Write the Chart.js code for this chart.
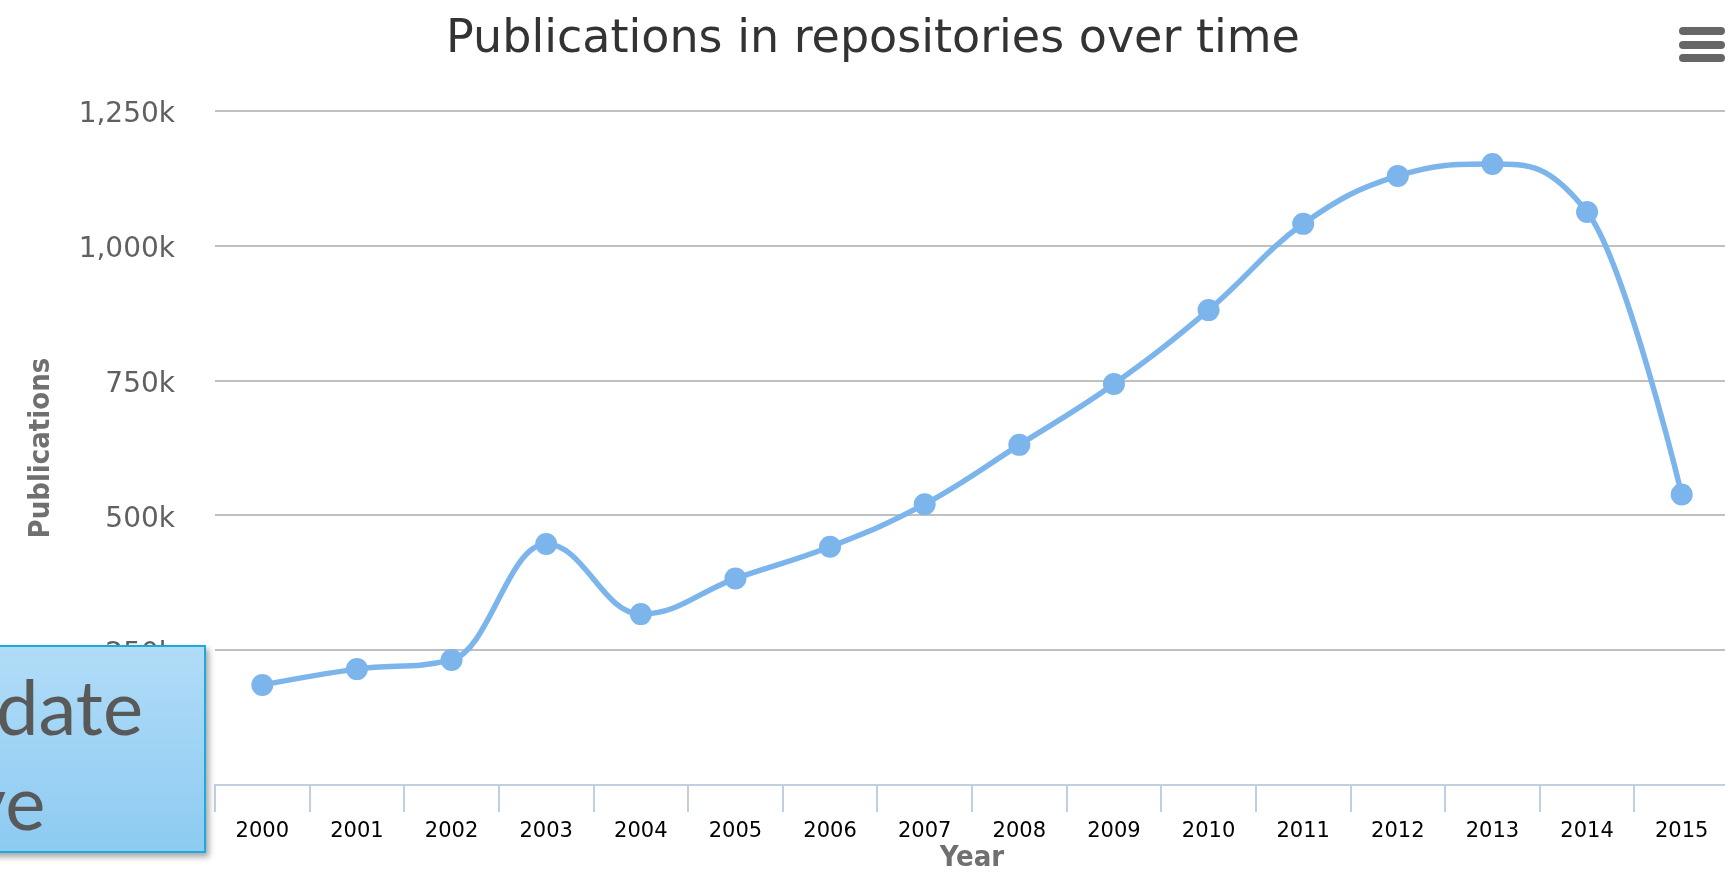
<!DOCTYPE html>
<html>
<head>
<meta charset="utf-8">
<title>Publications in repositories over time</title>
<script src="https://cdn.jsdelivr.net/npm/chart.js@4.4.1/dist/chart.umd.min.js"></script>
<style>
    html, body { margin: 0; padding: 0; background: #fff; overflow: hidden; }
    #wrap { position: absolute; left: 0; top: 0; }
    .bar { position: absolute; left: 1679px; width: 46px; height: 8px; background: #666; border-radius: 4px; }
    #callout {
        position: absolute; left: -40px; top: 645px; width: 246px; height: 208px;
        box-sizing: border-box; border: 2px solid #1ba9de;
        background: linear-gradient(#b1dcf8, #8dcbf1);
        box-shadow: 3px 4px 6px rgba(0, 0, 0, 0.35);
        font-family: Lato, "Open Sans", sans-serif; font-size: 76px; line-height: 95px; color: #595959;
        z-index: 2;
    }
    #callout span { position: absolute; white-space: nowrap; }
</style>
</head>
<body>
<div id="wrap"><canvas id="chart" width="1740" height="880"></canvas></div>
<div class="bar" style="top:27px"></div>
<div class="bar" style="top:41px"></div>
<div class="bar" style="top:54px"></div>
<div id="callout"><span style="left:34px;top:11px">date</span><span style="left:5px;top:106px">ve</span></div>
<script>
"use strict";

var years = ['2000', '2001', '2002', '2003', '2004', '2005', '2006', '2007',
             '2008', '2009', '2010', '2011', '2012', '2013', '2014', '2015'];
var publications = [185500, 215000, 232000, 447000, 317000, 383000, 442000, 521000,
                    631000, 744000, 881000, 1041000, 1130000, 1152000, 1063000, 539000];
var yMin = 0;
var yMax = 1250000;
var yStep = 250000;

var labelFont = "'DejaVu Sans'";
var axisTitleFont = "'DejaVu Sans Condensed', 'DejaVu Sans'";

//curva no estilo spline do highcharts (smoothing 1.5)
var hcSpline = {
    id: 'hcSpline',
    beforeDatasetDraw: function (chart, args) {
        var meta = args.meta;
        meta.dataset.updateControlPoints(chart.chartArea, meta.iScale.axis);
        var pts = meta.data;
        var k = 1.5, d = k + 1;
        for (var i = 0; i < pts.length; i++) {
            var p = pts[i], prev = pts[i - 1], next = pts[i + 1];
            p.cp1x = p.cp2x = p.x;
            p.cp1y = p.cp2y = p.y;
            if (!prev || !next) continue;
            var lx = (k * p.x + prev.x) / d, ly = (k * p.y + prev.y) / d;
            var rx = (k * p.x + next.x) / d, ry = (k * p.y + next.y) / d;
            var corr = (ry - ly) * (rx - p.x) / (rx - lx) + p.y - ry;
            ly += corr;
            ry += corr;
            if (ly > prev.y && ly > p.y) { ly = Math.max(prev.y, p.y); ry = 2 * p.y - ly; }
            else if (ly < prev.y && ly < p.y) { ly = Math.min(prev.y, p.y); ry = 2 * p.y - ly; }
            if (ry > next.y && ry > p.y) { ry = Math.max(next.y, p.y); ly = 2 * p.y - ry; }
            else if (ry < next.y && ry < p.y) { ry = Math.min(next.y, p.y); ly = 2 * p.y - ry; }
            p.cp1x = lx; p.cp1y = ly;
            p.cp2x = rx; p.cp2y = ry;
        }
    }
};

var chart = new Chart(document.getElementById('chart'), {
    type: 'line',
    data: {
        labels: years,
        datasets: [{
            label: 'Publications',
            data: publications,
            borderColor: '#7cb5ec',
            borderWidth: 5.5,
            tension: 0.4,
            fill: false,
            pointRadius: 11,
            pointBorderWidth: 0,
            pointBackgroundColor: '#7cb5ec'
        }]
    },
    options: {
        responsive: false,
        animation: false,
        events: [],
        layout: { padding: { left: 16, right: 10, top: 0, bottom: 0 } },
        plugins: {
            legend: { display: false },
            tooltip: { enabled: false },
            title: {
                display: true,
                text: 'Publications in repositories over time',
                color: '#333333',
                font: { family: labelFont, size: 46, weight: 'normal', lineHeight: 1.2 },
                padding: { top: 12, bottom: 44 }
            }
        },
        scales: {
            x: {
                offset: true,
                grid: { offset: true, drawOnChartArea: false, drawTicks: true, tickLength: 27, color: '#c0d0e0', lineWidth: 2 },
                border: { display: true, color: '#c0d0e0', width: 2 },
                ticks: { color: '#000000', font: { family: labelFont, size: 21 }, padding: 7, maxRotation: 0, autoSkip: false },
                title: {
                    display: true,
                    text: 'Year',
                    color: '#707070',
                    font: { family: axisTitleFont, size: 29, weight: 'bold', lineHeight: 1.2 },
                    padding: { top: 0, bottom: 4 }
                },
                afterFit: function (scale) { scale.height = 95; }
            },
            y: {
                min: yMin,
                max: yMax,
                grid: {
                    drawTicks: false,
                    lineWidth: 2,
                    color: function (ctx) { return ctx.tick && ctx.tick.value === 0 ? 'rgba(0,0,0,0)' : '#c0c0c0'; }
                },
                border: { display: false },
                ticks: {
                    stepSize: yStep,
                    color: '#606060',
                    font: { family: labelFont, size: 28 },
                    padding: 40,
                    labelOffset: 4,
                    callback: function (v) { return v === 0 ? '0' : (v / 1000).toLocaleString('en-US') + 'k'; }
                },
                title: {
                    display: true,
                    text: 'Publications',
                    color: '#707070',
                    font: { family: axisTitleFont, size: 29, weight: 'bold', lineHeight: 1.2 },
                    padding: { top: 8, bottom: 0 }
                },
                afterFit: function (scale) { scale.width = 199; }
            }
        }
    },
    plugins: [hcSpline]
});
</script>
</body>
</html>
